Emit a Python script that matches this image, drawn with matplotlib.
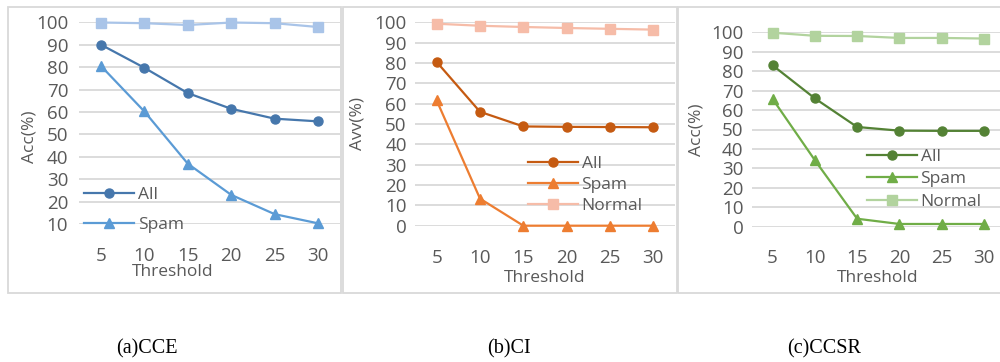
import numpy as np
import matplotlib
matplotlib.use("Agg")
import matplotlib.pyplot as plt
from matplotlib.patches import Rectangle

plt.rcParams['font.family'] = ['Open Sans', 'DejaVu Sans']

thresholds = ["5", "10", "15", "20", "25", "30"]

cce_all = [90.0, 79.7, 68.4, 61.4, 57.0, 55.8]
cce_spam = [80.5, 60.2, 36.9, 23.0, 14.4, 10.3]
cce_normal = [99.9, 99.6, 98.8, 99.9, 99.6, 97.9]

ci_all = [80.5, 56.0, 48.8, 48.6, 48.5, 48.4]
ci_spam = [61.6, 13.3, 0.0, 0.0, 0.0, 0.0]
ci_normal = [99.3, 98.3, 97.7, 97.2, 96.8, 96.4]

ccsr_all = [83.0, 66.0, 51.3, 49.4, 49.3, 49.3]
ccsr_spam = [65.7, 34.2, 4.1, 1.4, 1.4, 1.4]
ccsr_normal = [99.8, 98.2, 98.1, 97.1, 97.1, 96.8]

W, H = 1000, 362
fig = plt.figure(figsize=(W / 100, H / 100), dpi=100)
fig.patch.set_facecolor("white")

def rect(l, r, t, b):
    return [l / W, 1 - b / H, (r - l) / W, (b - t) / H]

TXT = "#595959"
GRID = "#D9D9D9"

# panel borders
for (l, r) in [(8, 341), (343, 676.5), (677.5, 1010)]:
    fig.patches.append(Rectangle((l / W, 1 - 293 / H), (r - l) / W, (293 - 7) / H,
                                 transform=fig.transFigure, fill=False,
                                 edgecolor=GRID, linewidth=1.3, zorder=0))

panels = [
    dict(r=rect(79.3, 339.7, 22.3, 224.0), ymin=10, ylab="Acc(%)", ylab_xy=(30, 137),
         xlab_xy=(173, 272), ypad=8.0, xpad=16.5,
         series=[(cce_normal, "Normal", "#A9C4E8", "s"),
                 (cce_all, "All", "#4677AC", "o"),
                 (cce_spam, "Spam", "#5B9BD5", "^")],
         legend=["All", "Spam"], leg_xy=(84, 186.5), leg_sp=0.82),
    dict(r=rect(415.0, 675.0, 22.3, 225.7), ymin=0, ylab="Avv(%)", ylab_xy=(358, 124),
         xlab_xy=(545, 278), ypad=6.0, xpad=17.0,
         series=[(ci_normal, "Normal", "#F6BCA8", "s"),
                 (ci_all, "All", "#C55A11", "o"),
                 (ci_spam, "Spam", "#ED7D31", "^")],
         legend=["All", "Spam", "Normal"], leg_xy=(527.7, 156.0), leg_sp=0.27),
    dict(r=rect(751.5, 1005.0, 32.3, 226.7), ymin=0, ylab="Acc(%)", ylab_xy=(696.7, 130),
         xlab_xy=(878, 278.5), ypad=5.8, xpad=16.0,
         series=[(ccsr_normal, "Normal", "#B2D39E", "s"),
                 (ccsr_all, "All", "#548235", "o"),
                 (ccsr_spam, "Spam", "#70AD47", "^")],
         legend=["All", "Spam", "Normal"], leg_xy=(866.7, 148.5), leg_sp=0.38),
]

x = np.arange(len(thresholds))
for p in panels:
    ax = fig.add_axes(p["r"])
    ax.set_facecolor("none")
    handles = {}
    for vals, name, col, mk in p["series"]:
        h, = ax.plot(x, vals, color=col, marker=mk, markersize=6.5, linewidth=1.6,
                     label=name, clip_on=False, zorder=3)
        handles[name] = h
    ax.set_xlim(-0.5, len(thresholds) - 0.5)
    ax.set_ylim(p["ymin"], 100)
    ax.set_yticks(np.arange(p["ymin"], 101, 10))
    ax.set_xticks(x)
    ax.set_xticklabels(thresholds)
    for s in ax.spines.values():
        s.set_visible(False)
    ax.grid(axis="y", color=GRID, linewidth=1.3, zorder=0)
    ax.set_axisbelow(True)
    ax.tick_params(axis="both", length=0, labelsize=13.5, colors=TXT)
    ax.tick_params(axis="y", pad=p["ypad"])
    ax.tick_params(axis="x", pad=p["xpad"])
    fig.text(p["ylab_xy"][0] / W, 1 - p["ylab_xy"][1] / H, p["ylab"], rotation=90,
             ha="center", va="center", fontsize=12.5, color=TXT)
    fig.text(p["xlab_xy"][0] / W, 1 - p["xlab_xy"][1] / H, "Threshold",
             ha="center", va="center", fontsize=12.5, color=TXT)
    leg = ax.legend([handles[n] for n in p["legend"]], p["legend"], loc="upper left",
                    bbox_to_anchor=(p["leg_xy"][0] / W, 1 - p["leg_xy"][1] / H),
                    bbox_transform=fig.transFigure, frameon=False, fontsize=12.5,
                    handlelength=2.9, handletextpad=0.2, labelspacing=p["leg_sp"],
                    borderpad=0, borderaxespad=0)
    for t in leg.get_texts():
        t.set_color(TXT)

captions = ["(a)CCE", "(b)CI", "(c)CCSR"]
cap_x = [147, 509, 824]
for cx, c in zip(cap_x, captions):
    fig.text(cx / W, 1 - 349 / H, c, ha="center", va="center", fontsize=14.5,
             family="Liberation Serif", color="black")

fig.savefig("out.png", dpi=100, facecolor="white")
